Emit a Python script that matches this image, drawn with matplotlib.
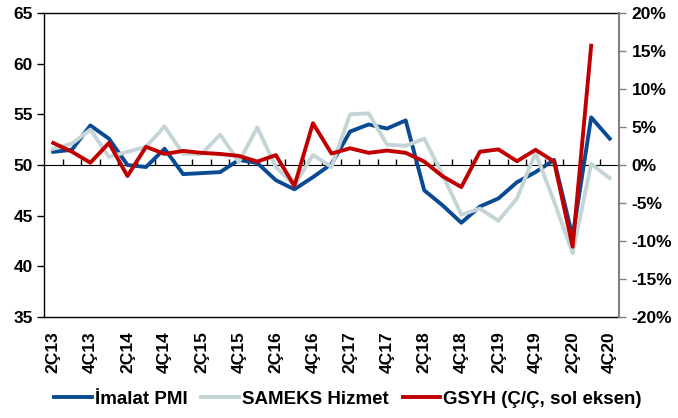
import matplotlib
matplotlib.use("Agg")
import matplotlib.pyplot as plt
from matplotlib.ticker import FuncFormatter, MultipleLocator

plt.rcParams['font.family'] = ['Liberation Sans', 'DejaVu Sans']
plt.rcParams['font.weight'] = 'bold'

quarters = ["2Ç13", "3Ç13", "4Ç13", "1Ç14", "2Ç14", "3Ç14", "4Ç14", "1Ç15",
            "2Ç15", "3Ç15", "4Ç15", "1Ç16", "2Ç16", "3Ç16", "4Ç16", "1Ç17",
            "2Ç17", "3Ç17", "4Ç17", "1Ç18", "2Ç18", "3Ç18", "4Ç18", "1Ç19",
            "2Ç19", "3Ç19", "4Ç19", "1Ç20", "2Ç20", "3Ç20", "4Ç20"]

imalat_pmi = [51.3, 51.5, 53.9, 52.6, 50.0, 49.8, 51.6, 49.1, 49.2, 49.3, 50.5,
              50.2, 48.5, 47.6, 48.8, 50.1, 53.3, 54.0, 53.6, 54.4, 47.5, 46.0,
              44.3, 45.9, 46.7, 48.3, 49.3, 50.5, 42.9, 54.7, 52.6]

sameks = [51.6, 52.1, 53.5, 50.8, 51.3, 51.8, 53.8, 51.1, 51.1, 53.0, 50.3,
          53.7, 49.8, 48.0, 51.0, 49.8, 55.0, 55.1, 52.0, 51.9, 52.6, 49.0,
          45.1, 45.7, 44.5, 46.7, 51.2, 46.4, 41.3, 50.1, 48.7]

# GSYH ceyreklik degisim (%), 4Ç20 yok
gsyh = [2.9, 1.75, 0.3, 2.9, -1.45, 2.4, 1.45, 1.85, 1.6, 1.45, 1.2, 0.45,
        1.3, -2.75, 5.5, 1.5, 2.2, 1.6, 1.9, 1.6, 0.45, -1.5, -2.9, 1.75,
        2.05, 0.5, 2.0, 0.45, -10.75, 15.7]

blue = "#0A4A92"
gray = "#C5D5D7"
red = "#C00000"

fig = plt.figure(figsize=(6.78, 4.18), dpi=100)
ax = fig.add_axes([44/678, 1-317/418, 575/678, 304/418])
ax2 = ax.twinx()

x = list(range(len(quarters)))
l1, = ax.plot(x, imalat_pmi, color=blue, lw=2.8, label="İmalat PMI")
l2, = ax.plot(x, sameks, color=gray, lw=2.8, label="SAMEKS Hizmet")
l3, = ax2.plot(x[:len(gsyh)], [v/100 for v in gsyh], color=red, lw=2.8,
               label="GSYH (Ç/Ç, sol eksen)")

ax.set_xlim(-0.5, len(quarters)-0.5)
ax.set_ylim(35, 65)
ax2.set_ylim(-0.2, 0.2)

ax.yaxis.set_major_locator(MultipleLocator(5))
ax2.yaxis.set_major_locator(MultipleLocator(0.05))
ax2.yaxis.set_major_formatter(FuncFormatter(lambda v, p: f"{v*100:.0f}%"))

ax.set_xticks(x[::2])
ax.set_xticklabels(quarters[::2], rotation=90, fontsize=12.5, fontweight='bold')
ax.tick_params(axis='x', length=0, pad=10)
ax.tick_params(axis='y', labelsize=12.5, length=5, width=1, direction='out', pad=3)
ax2.tick_params(axis='y', labelsize=12.5, length=5, width=1, direction='out',
                colors='black', pad=4)
ax2.tick_params(axis='y', color='#808080')

# eksen cizgisi 50'de, aralarda kucuk tikler
sec = ax.secondary_xaxis(0.5)
sec.set_xticks([i + 0.5 for i in x[:-1]])
sec.tick_params(axis='x', length=4, width=1, direction='out', labelbottom=False,
                labeltop=False)
sec.spines['bottom'].set_linewidth(1)

for s in ['left', 'bottom', 'top']:
    ax.spines[s].set_linewidth(1)
    ax.spines[s].set_color('black')
ax.spines['right'].set_visible(False)
for s in ['left', 'bottom', 'top']:
    ax2.spines[s].set_visible(False)
ax2.spines['right'].set_color('#808080')
ax2.spines['right'].set_linewidth(1.5)

fig.legend(handles=[l1, l2, l3], loc='center', bbox_to_anchor=(0.513, 1-399/418),
           ncol=3, frameon=False, prop={'size': 13.5, 'weight': 'bold'},
           handlelength=2.0, handletextpad=0.15, columnspacing=0.75)

fig.savefig("out.png", dpi=100)
